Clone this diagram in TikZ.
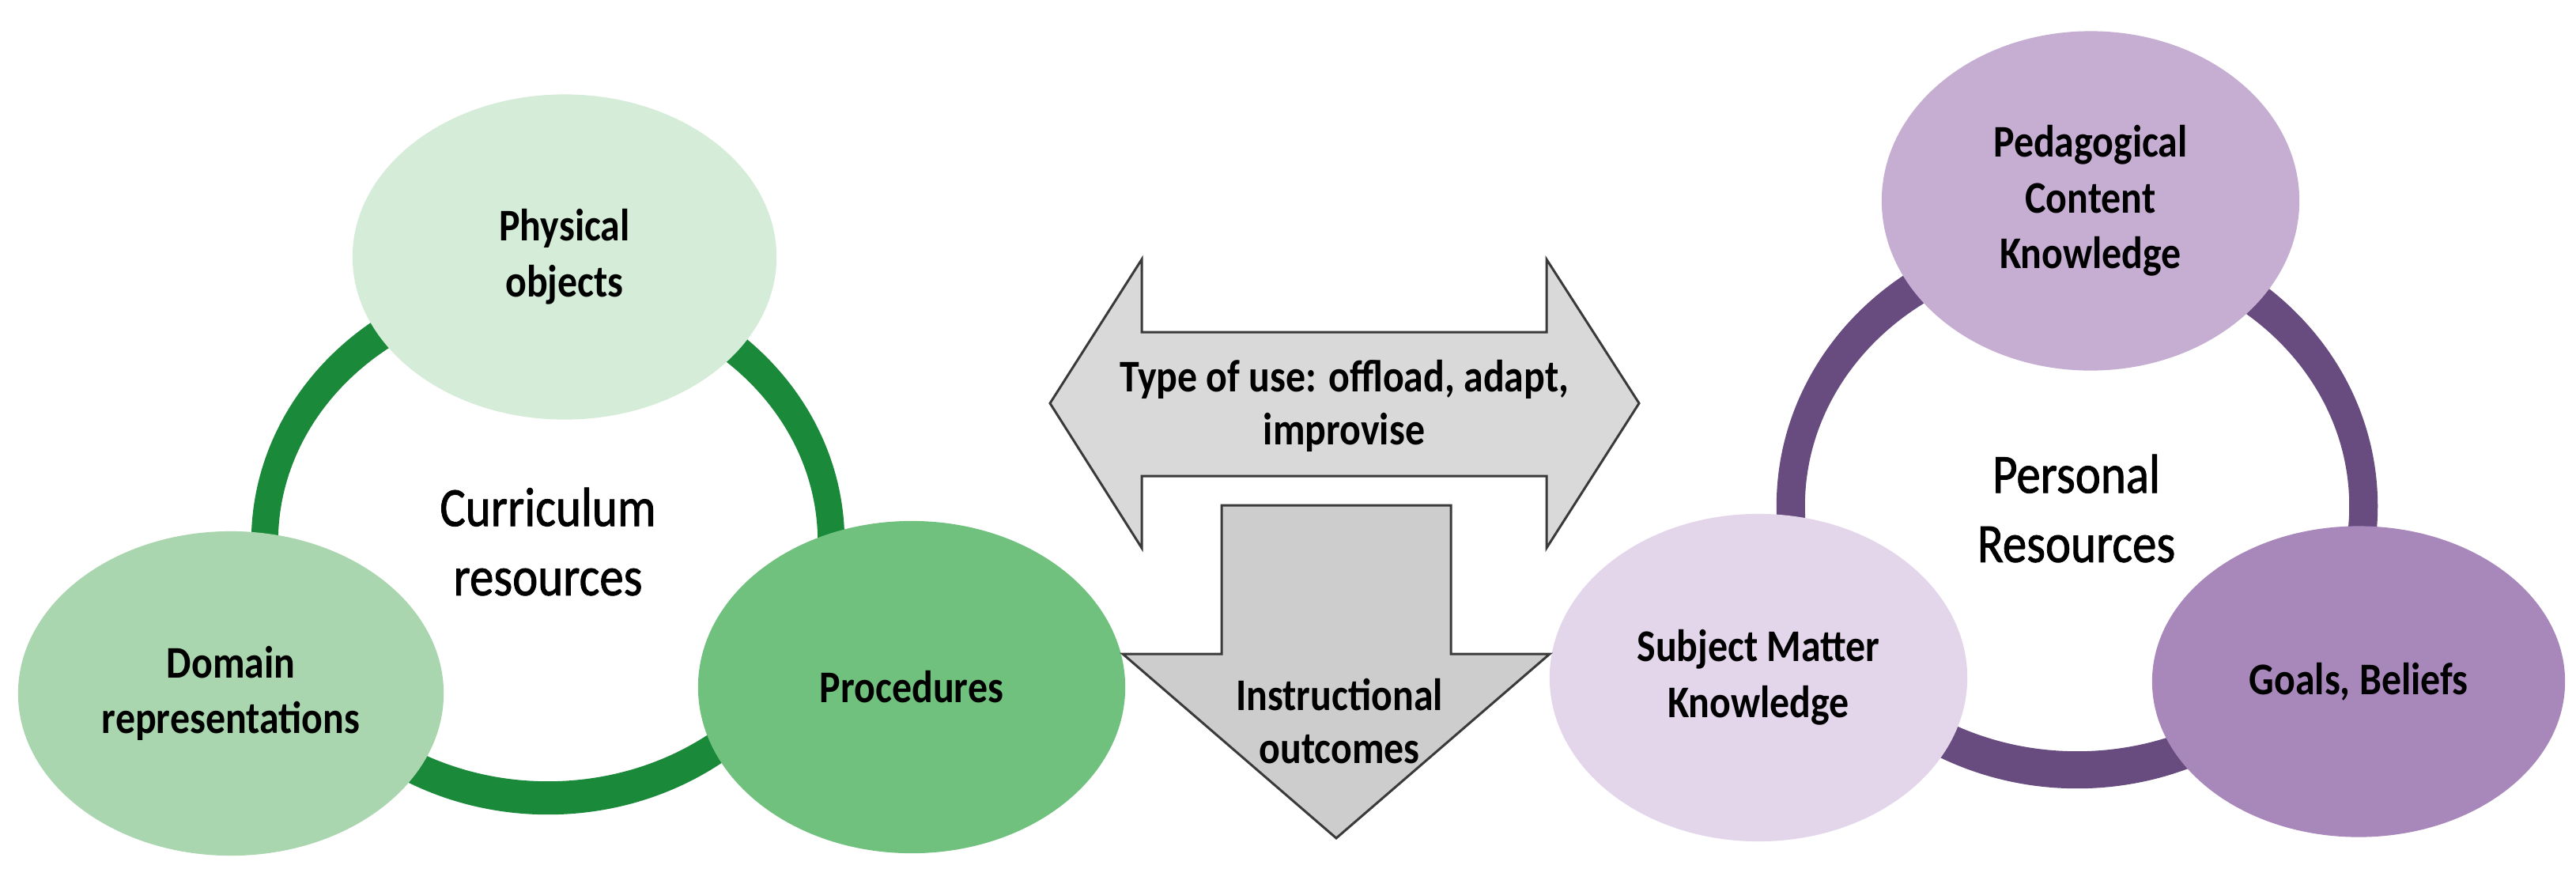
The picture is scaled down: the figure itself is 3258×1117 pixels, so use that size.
\documentclass[tikz,border=0pt]{standalone}
\usepackage{fontspec}
\setmainfont{Carlito}[FakeStretch=0.87]
\newfontfamily\hubfont{Carlito}[FakeStretch=0.87, FakeBold=1.2]
\usetikzlibrary{shapes.geometric}
\definecolor{gPhys}{HTML}{D4ECD8}
\definecolor{gDom}{HTML}{A9D6AE}
\definecolor{gProc}{HTML}{70C17D}
\definecolor{gRing}{HTML}{1A8A3A}
\definecolor{pPck}{HTML}{C6AED3}
\definecolor{pSmk}{HTML}{E3D6EA}
\definecolor{pGoal}{HTML}{A888BB}
\definecolor{pRing}{HTML}{684C80}
\definecolor{arrA}{HTML}{D9D9D9}
\definecolor{arrB}{HTML}{CDCDCD}
\definecolor{arrLine}{HTML}{3A3A3A}
\tikzset{
  blob/.style={ellipse, inner sep=0pt, align=center,
    font=\fontsize{16.3}{20.1}\selectfont\bfseries},
  hub/.style={align=center, inner sep=0pt,
    font=\hubfont\fontsize{19.9}{24.9}\selectfont},
  blockarrow/.style={draw=arrLine, line width=0.85pt, line join=miter},
  arrlabel/.style={align=center, inner sep=0pt,
    font=\fontsize{16.3}{19}\selectfont\bfseries}
}
\begin{document}
\begin{tikzpicture}[x=0.01cm,y=-0.01cm]
\useasboundingbox (0,0) rectangle (3258,1117);
\fill[white] (0,0) rectangle (3258,1117);
% left ring
\coordinate (lc) at (693,685);
\fill[gRing, even odd rule] (lc) ellipse[x radius=3.75cm, y radius=3.45cm]
                            (lc) ellipse[x radius=3.41cm, y radius=3.03cm];
% ellipses left
\node[blob, fill=gPhys, minimum width=5.36cm, minimum height=4.11cm] (physical) at (714,325) {Physical\\objects};
\node[blob, fill=gDom, minimum width=5.38cm, minimum height=4.10cm] (domain) at (292,877) {Domain\\representations};
\node[blob, fill=gProc, minimum width=5.40cm, minimum height=4.20cm] (proc) at (1153,869) {Procedures};
\node[hub] (curr) at (lc) {Curriculum\\resources};
% right ring
\coordinate (rc) at (2627,640);
\fill[pRing, even odd rule] (rc) ellipse[x radius=3.80cm, y radius=3.57cm]
                            (rc) ellipse[x radius=3.44cm, y radius=3.10cm];
\node[blob, fill=pPck, minimum width=5.28cm, minimum height=4.29cm] (pck) at (2644,254) {Pedagogical\\Content\\Knowledge};
\node[blob, fill=pSmk, minimum width=5.28cm, minimum height=4.14cm] (smk) at (2224,857) {Subject Matter\\Knowledge};
\node[blob, fill=pGoal, minimum width=5.22cm, minimum height=3.93cm] (goals) at (2983,862) {Goals, Beliefs};
\node[hub] (pers) at (2626,643) {Personal\\Resources};
% double arrow
\draw[blockarrow, fill=arrA] (1328,510) -- (1444,328) -- (1444,420) -- (1956,420) -- (1956,328) -- (2073,510) -- (1956,693) -- (1956,602) -- (1444,602) -- (1444,693) -- cycle;
\node[arrlabel] (use) at (1700,513) {Type of use: offload, adapt,\\improvise};
% down arrow
\draw[blockarrow, fill=arrB] (1545,639) -- (1835,639) -- (1835,827) -- (1960,827) -- (1690,1060) -- (1420,827) -- (1545,827) -- cycle;
\node[arrlabel] (out) at (1694,912) {Instructional\\outcomes};
\end{tikzpicture}
\end{document}
